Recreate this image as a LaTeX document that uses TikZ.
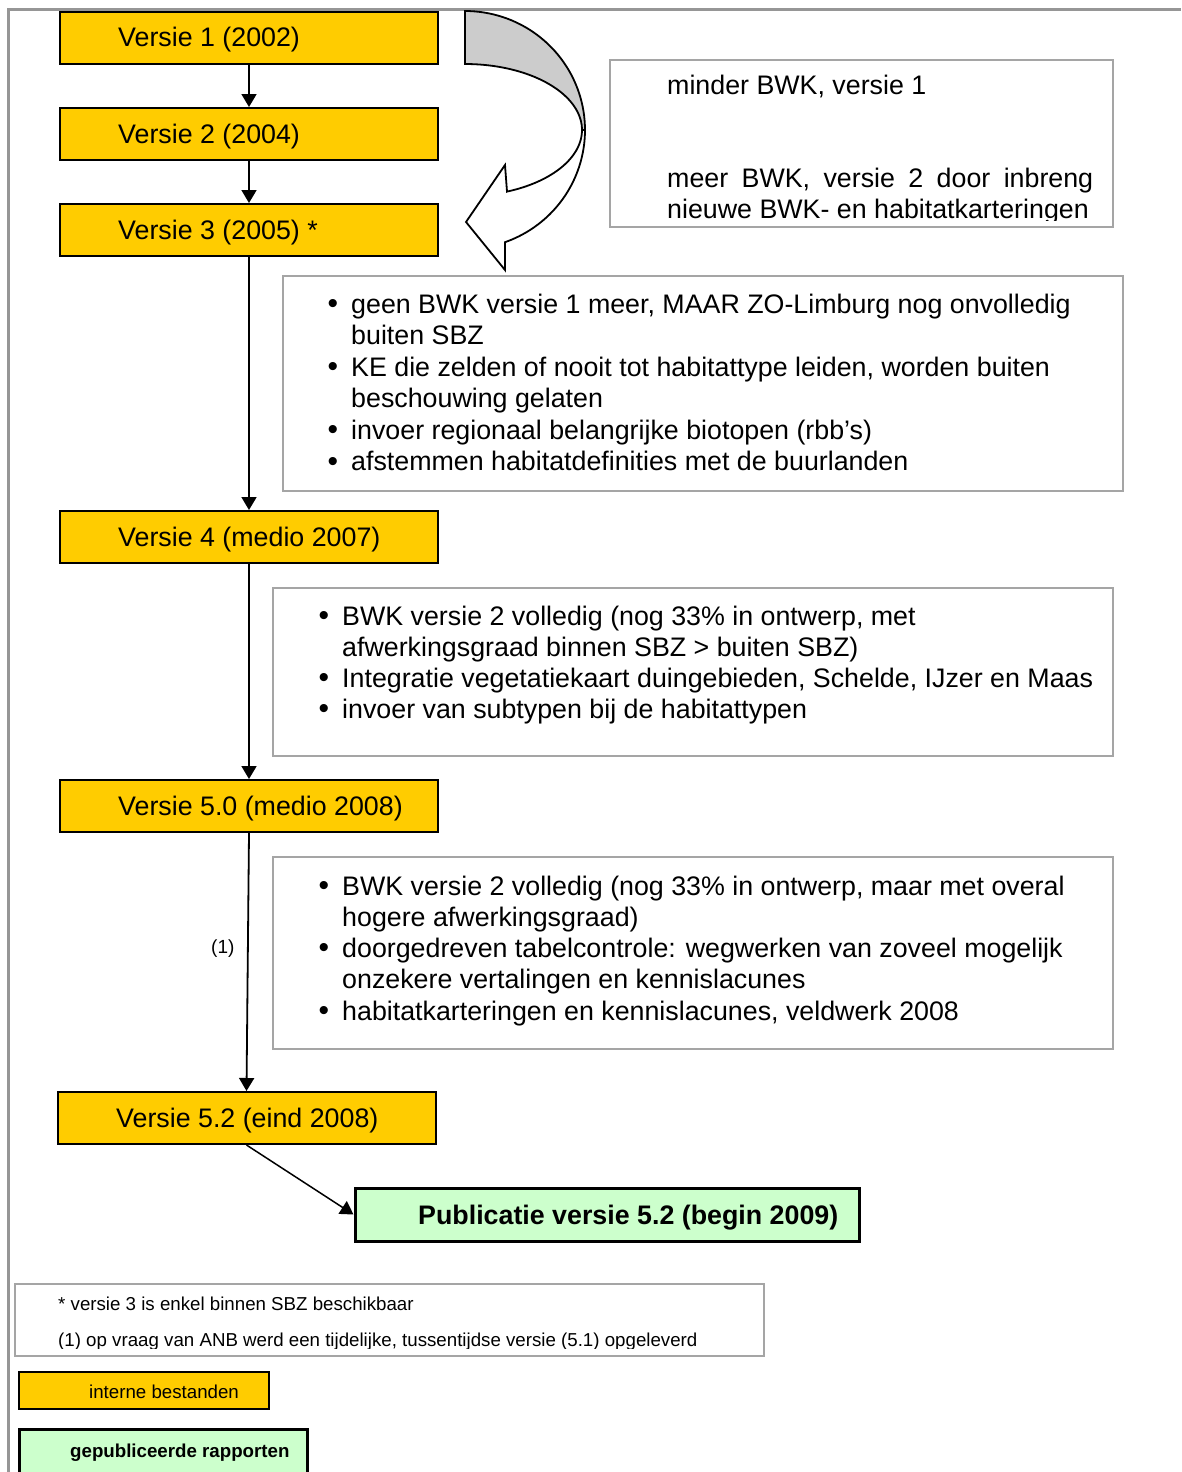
\documentclass[tikz,border=0pt]{standalone}
\usepackage{fontspec}
\setmainfont{Liberation Sans}
\usetikzlibrary{arrows.meta}
\definecolor{vyellow}{HTML}{FFCC00}
\definecolor{pgreen}{HTML}{CCFFCC}
\definecolor{framegray}{RGB}{150,150,150}
\definecolor{boxgray}{RGB}{165,165,165}
\definecolor{backgray}{RGB}{204,204,204}
\newcommand{\bigtxt}{\fontsize{26.8}{31.5}\selectfont}
\newcommand{\smalltxt}{\fontsize{18.7}{22}\selectfont}
\newcommand{\labeltxt}{\fontsize{19}{22}\selectfont}
\newcommand{\dottxt}{\fontsize{30}{30}\selectfont}

\begin{document}
\begin{tikzpicture}[x=1pt,y=-1pt,
  ybox/.style={draw=black, line width=2pt, fill=vyellow, minimum width=378pt,
               minimum height=52pt, inner sep=0pt},
  gbox/.style={draw=boxgray, line width=2pt, fill=white, inner sep=0pt},
  pbox/.style={draw=black, line width=3pt, fill=pgreen, inner sep=0pt},
  txt/.style={anchor=base west, inner sep=0pt, font=\bigtxt},
  stxt/.style={anchor=base west, inner sep=0pt, font=\smalltxt},
  dot/.style={anchor=base west, inner sep=0pt, font=\dottxt},
  conn/.style={draw=black, line width=1.8pt, -{Triangle[width=15pt,length=13pt]}},
  frameline/.style={draw=framegray, line width=3pt},
  turnarrow/.style={draw=black, line width=1.8pt, line join=miter}
]
\useasboundingbox (0,0) rectangle (1181,1472);

% outer frame
\draw[frameline] (8,1472) -- (8,10) -- (1181,10);

% version boxes
\node[ybox] (v1)  at (249,38)     {};
\node[ybox] (v2)  at (249,134)    {};
\node[ybox] (v3)  at (249,230)    {};
\node[ybox] (v4)  at (249,537)    {};
\node[ybox] (v50) at (249,806)    {};
\node[ybox] (v52) at (246.5,1118) {};
\node[txt] (v1t)  at (118,47)   {Versie 1 (2002)};
\node[txt] (v2t)  at (118,143)  {Versie 2 (2004)};
\node[txt] (v3t)  at (118,239)  {Versie 3 (2005) *};
\node[txt] (v4t)  at (118,546)  {Versie 4 (medio 2007)};
\node[txt] (v50t) at (118,815)  {Versie 5.0 (medio 2008)};
\node[txt] (v52t) at (116,1127) {Versie 5.2 (eind 2008)};

% publication box
\node[pbox, minimum width=504pt, minimum height=53pt] (pub) at (607,1214.5) {};
\node[txt, font=\bigtxt\bfseries] (pubt) at (418,1224) {Publicatie versie 5.2 (begin 2009)};

% connectors
\draw[conn] (v1) -- (v2);
\draw[conn] (v2) -- (v3);
\draw[conn] (v3) -- (v4);
\draw[conn] (v4) -- (v50);
\draw[conn] (v50.south) -- (v52.north);
\draw[conn, line width=1.5pt] (v52.south) -- (pub.west);
\node[anchor=base west, inner sep=0pt, font=\labeltxt] (fn1) at (211,953) {(1)};

% curved turn-back arrow: back of the band
\draw[turnarrow, fill=backgray]
  (465,64) -- (465,11)
  -- plot[domain=90:0, samples=40, variable=\t] ({465+120*cos(\t)},{130-119*sin(\t)})
  -- plot[domain=0:90, samples=40, variable=\t] ({465+117*cos(\t)},{130-66*sin(\t)})
  -- cycle;
% front of the band with the arrow head
\draw[turnarrow, fill=white]
  plot[domain=0:-70.53, samples=40, variable=\t] ({465+120*cos(\t)},{130-119*sin(\t)})
  -- (505,270) -- (466,222) -- (505,165) -- (507,191.6)
  -- plot[domain=-68.96:0, samples=40, variable=\t] ({465+117*cos(\t)},{130-66*sin(\t)})
  -- cycle;

% note beside the turn-back arrow
\node[gbox, minimum width=503pt, minimum height=167pt] (note) at (861.5,143.5) {};
\begin{scope}
  \clip (611,61) rectangle (1112,220.5);
  \node[txt] (n1) at (667,94) {minder BWK, versie 1};
  \node[txt] (n2) at (667,187) {\makebox[426pt][s]{meer BWK, versie 2 door inbreng}};
  \node[txt] (n3) at (667,218) {nieuwe BWK- en habitatkarteringen};
\end{scope}

% changes towards version 4
\node[gbox, minimum width=840pt, minimum height=215pt] (c4) at (703,383.5) {};
\node[dot] at (327.3,313.6)  {•};
\node[txt] at (351,313)    {geen BWK versie 1 meer, MAAR ZO-Limburg nog onvolledig};
\node[txt] at (351,344.5)  {buiten SBZ};
\node[dot] at (327.3,376.6)  {•};
\node[txt] at (351,376)    {KE die zelden of nooit tot habitattype leiden, worden buiten};
\node[txt] at (351,407.5)  {beschouwing gelaten};
\node[dot] at (327.3,439.6)  {•};
\node[txt] at (351,439)    {invoer regionaal belangrijke biotopen (rbb’s)};
\node[dot] at (327.3,471.1)  {•};
\node[txt] at (351,470.5)  {afstemmen habitatdefinities met de buurlanden};

% changes towards version 5.0
\node[gbox, minimum width=840pt, minimum height=168pt] (c5) at (693,672) {};
\node[dot] at (318.3,625.6) {•};
\node[txt] at (342,625)   {BWK versie 2 volledig (nog 33\% in ontwerp, met};
\node[txt] at (342,656)   {afwerkingsgraad binnen SBZ > buiten SBZ)};
\node[dot] at (318.3,687.6) {•};
\node[txt] at (342,687)   {Integratie vegetatiekaart duingebieden, Schelde, IJzer en Maas};
\node[dot] at (318.3,718.6) {•};
\node[txt] at (342,718)   {invoer van subtypen bij de habitattypen};

% changes towards version 5.2
\node[gbox, minimum width=840pt, minimum height=192pt] (c52) at (693,953) {};
\node[dot] at (318.3,895.6)  {•};
\node[txt] at (342,895)    {BWK versie 2 volledig (nog 33\% in ontwerp, maar met overal};
\node[txt] at (342,926)    {hogere afwerkingsgraad)};
\node[dot] at (318.3,957.6)  {•};
\node[txt] at (342,957)    {doorgedreven tabelcontrole: wegwerken van zoveel mogelijk};
\node[txt] at (342,988)    {onzekere vertalingen en kennislacunes};
\node[dot] at (318.3,1020.6) {•};
\node[txt] at (342,1020)   {habitatkarteringen en kennislacunes, veldwerk 2008};

% footnotes
\node[gbox, minimum width=749pt, minimum height=72pt] (foot) at (389.5,1320) {};
\begin{scope}
  \clip (16,1285) rectangle (763,1348);
  \node[stxt] (f1) at (58,1310) {* versie 3 is enkel binnen SBZ beschikbaar};
  \node[stxt] (f2) at (58,1346) {(1) op vraag van ANB werd een tijdelijke, tussentijdse versie (5.1) opgeleverd};
\end{scope}

% legend
\node[ybox, minimum width=250pt, minimum height=37pt] (lgy) at (144,1390.5) {};
\node[stxt] (lgyt) at (89,1398) {interne bestanden};
\node[pbox, minimum width=288pt, minimum height=62pt] (lgg) at (163,1460) {};
\node[stxt, font=\smalltxt\bfseries] (lggt) at (70,1457) {gepubliceerde rapporten};
\end{tikzpicture}
\end{document}
